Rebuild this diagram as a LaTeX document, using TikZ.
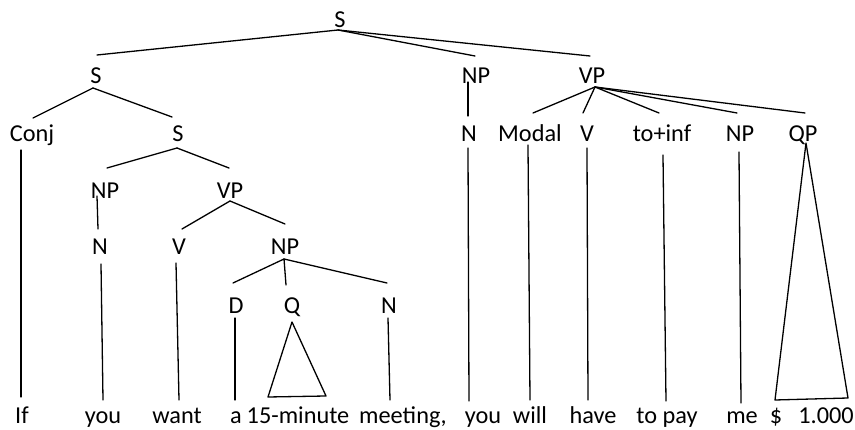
\documentclass[tikz,border=0pt]{standalone}
\usepackage{fontspec}
\setmainfont{Carlito}
\begin{document}
\begin{tikzpicture}[x=1pt,y=-1pt,
  lab/.style={anchor=base,inner sep=0pt,font=\fontsize{24.3}{28}\selectfont},
  br/.style={line width=1.3pt,line cap=round,line join=round}]
\useasboundingbox (0,0) rectangle (855,430);
% labels
\node[lab] (S0) at (340,28) {S};
\node[lab] (S1) at (96,84) {S};
\node[lab] (Conj) at (32,142) {Conj};
\node[lab] (S2) at (178,142) {S};
\node[lab] (NP1) at (105,199) {NP};
\node[lab] (VP1) at (230,199) {VP};
\node[lab] (N1) at (100,255) {N};
\node[lab] (V1) at (179,255) {V};
\node[lab] (NP2) at (285,255) {NP};
\node[lab] (D) at (236,314) {D};
\node[lab] (Q) at (292,314) {Q};
\node[lab] (N2) at (389,314) {N};
\node[lab] (NP3) at (476,84) {NP};
\node[lab] (VP2) at (592,84) {VP};
\node[lab] (N3) at (469,142) {N};
\node[lab] (Modal) at (530,142) {Modal};
\node[lab] (V2) at (587,142) {V};
\node[lab] (TI) at (662,142) {to+inf};
\node[lab] (NP4) at (740,142) {NP};
\node[lab] (QP) at (803,142) {QP};
% words
\node[lab] (w1) at (22,424) {If};
\node[lab] (w2) at (103,424) {you};
\node[lab] (w3) at (177,424) {want};
\node[lab] (w4) at (236,424) {a};
\node[lab] (w5) at (298,424) {15-minute};
\node[lab] (w6) at (403,424) {meeting,};
\node[lab] (w7) at (483,424) {you};
\node[lab] (w8) at (530,424) {will};
\node[lab] (w9) at (593,424) {have};
\node[lab] (w10) at (667,424) {to pay};
\node[lab] (w11) at (742,424) {me};
\node[lab] (w12) at (776,424) {\$};
\node[lab] (w13) at (826,424) {1.000};
% connector end points
\coordinate (S0b) at (338,30);
\coordinate (S1t) at (97,55);   \coordinate (S1b) at (93,88);
\coordinate (Conjt) at (33,118); \coordinate (Conjb) at (21,150);
\coordinate (w1t) at (21,397);
\coordinate (S2t) at (172,117); \coordinate (S2b) at (177,148);
\coordinate (NP1t) at (107,168); \coordinate (NP1b) at (97,196);
\coordinate (N1t) at (98,229); \coordinate (N1b) at (101,264);
\coordinate (w2t) at (103,400);
\coordinate (VP1t) at (229,168); \coordinate (VP1b) at (230,201);
\coordinate (V1t) at (182,229); \coordinate (V1b) at (176,263);
\coordinate (w3t) at (179,400);
\coordinate (NP2t) at (285,224); \coordinate (NP2b) at (284,259);
\coordinate (Dt) at (233,283); \coordinate (Db) at (235,318);
\coordinate (w4t) at (235,400);
\coordinate (Qt) at (286,285); \coordinate (Qb) at (292,322);
\coordinate (QL) at (268,397); \coordinate (QR) at (326,396);
\coordinate (N2t) at (387,283); \coordinate (N2b) at (388,318);
\coordinate (w6t) at (390,400);
\coordinate (NP3t) at (475,56); \coordinate (NP3b) at (468,82);
\coordinate (N3t) at (468,116); \coordinate (N3b) at (468,148);
\coordinate (w7t) at (469,401);
\coordinate (VP2t) at (590,56); \coordinate (VP2b) at (595,87);
\coordinate (Modalt) at (533,113); \coordinate (Modalb) at (528,145);
\coordinate (w8t) at (530,400);
\coordinate (V2t) at (583,113); \coordinate (V2b) at (587,148);
\coordinate (w9t) at (588,400);
\coordinate (TIt) at (659,113); \coordinate (TIb) at (663,155);
\coordinate (w10t) at (666,401);
\coordinate (NP4t) at (737,113); \coordinate (NP4b) at (739,152);
\coordinate (w11t) at (741,403);
\coordinate (QPt) at (805,113); \coordinate (QPb) at (806,143);
\coordinate (QPL) at (775,400); \coordinate (QPR) at (848,398);
% branches
\draw[br] (S0b) -- (S1t);
\draw[br] (S0b) -- (NP3t);
\draw[br] (S0b) -- (VP2t);
\draw[br] (S1b) -- (Conjt);
\draw[br] (S1b) -- (S2t);
\draw[br] (Conjb) -- (w1t);
\draw[br] (S2b) -- (NP1t);
\draw[br] (S2b) -- (VP1t);
\draw[br] (NP1b) -- (N1t);
\draw[br] (N1b) -- (w2t);
\draw[br] (VP1b) -- (V1t);
\draw[br] (VP1b) -- (NP2t);
\draw[br] (V1b) -- (w3t);
\draw[br] (NP2b) -- (Dt);
\draw[br] (NP2b) -- (Qt);
\draw[br] (NP2b) -- (N2t);
\draw[br] (Db) -- (w4t);
\draw[br] (Qb) -- (QL) -- (QR) -- cycle;
\draw[br] (N2b) -- (w6t);
\draw[br] (NP3b) -- (N3t);
\draw[br] (N3b) -- (w7t);
\draw[br] (VP2b) -- (Modalt);
\draw[br] (VP2b) -- (V2t);
\draw[br] (VP2b) -- (TIt);
\draw[br] (VP2b) -- (NP4t);
\draw[br] (VP2b) -- (QPt);
\draw[br] (Modalb) -- (w8t);
\draw[br] (V2b) -- (w9t);
\draw[br] (TIb) -- (w10t);
\draw[br] (NP4b) -- (w11t);
\draw[br] (QPb) -- (QPL) -- (QPR) -- cycle;
\end{tikzpicture}
\end{document}
